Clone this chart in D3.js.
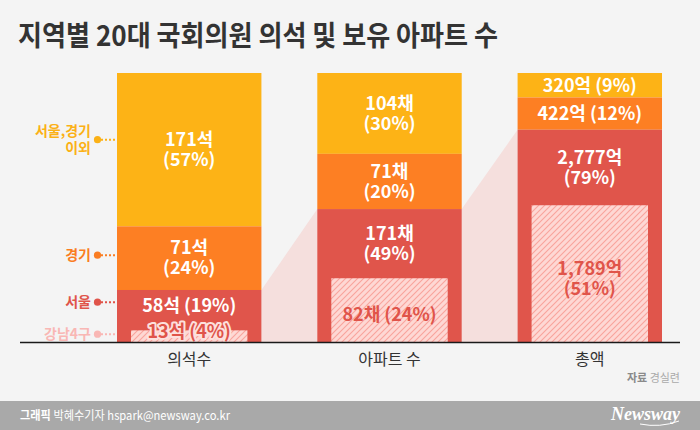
<!DOCTYPE html>
<html><head><meta charset="utf-8">
<script src="https://cdn.jsdelivr.net/npm/d3@7/dist/d3.min.js"></script>
<style>
html,body{margin:0;padding:0;background:#f4f4f4;}
svg{display:block;font-family:"Noto Sans CJK KR","Noto Sans",sans-serif;}
</style></head>
<body><svg id="c" width="700" height="430"></svg>
<script>
// ---- data ----
const categories = ["의석수", "아파트 수", "총액"];
const groups = ["서울,경기 이외", "경기", "서울"];
const seats = [171, 71, 58];
const apts = [104, 71, 171];
const amounts = [320, 422, 2777];
const gangnam = [13, 82, 1789];
const units = ["석", "채", "억"];
const valueLabels = [["171", "71", "58"], ["104", "71", "171"], ["320", "422", "2,777"]];
const gangnamLabels = ["13", "82", "1,789"];
const pctLabels = [[57, 24, 19], [30, 20, 49], [9, 12, 79]];
const gangnamPct = [4, 24, 51];
const legendLabels = [["서울,경기", "이외"], ["경기"], ["서울"], ["강남4구"]];
const title = "지역별 20대 국회의원 의석 및 보유 아파트 수";
const source = ["자료", "경실련"];
const credit = ["그래픽", "박혜수기자 hspark@newsway.co.kr"];

const series = [seats, apts, amounts];
const colors = ["#fdb316", "#fd7f23", "#e0554b"];
const legendColors = ["#fbb116", "#fa7d22", "#e0544a", "#f9b7b4"];

const svg = d3.select("#c");
const W = 700, H = 430;
const yTop = 73, base = 342;

svg.append("rect").attr("width", W).attr("height", H).attr("fill", "#f4f4f4");

// pattern
const defs = svg.append("defs");
const pat = defs.append("pattern").attr("id", "hatch").attr("patternUnits", "userSpaceOnUse")
  .attr("width", 6).attr("height", 6);
pat.append("rect").attr("width", 6).attr("height", 6).attr("fill", "#fed8d4");
pat.append("path").attr("d", "M-1,1 l2,-2 M0,6 l6,-6 M5,7 l2,-2")
  .attr("stroke", "#f9a49c").attr("stroke-width", 1.1);

// title
svg.append("text").attr("x", 18).attr("y", 46).attr("font-size", 28).attr("font-weight", 700)
  .attr("fill", "#333").attr("textLength", 480).attr("lengthAdjust", "spacingAndGlyphs")
  .text(title);

const x = d3.scaleBand().domain(categories).range([117, 662]).paddingInner(0.279).paddingOuter(0);
const bw = x.bandwidth();

const bars = categories.map((c, i) => {
  const vals = series[i];
  const total = d3.sum(vals);
  const y = d3.scaleLinear().domain([0, total]).range([base, yTop]);
  let cum = total;
  const segs = vals.map((v, j) => {
    const s = { j, v, y0: y(cum), y1: y(cum - v) };
    cum -= v;
    return s;
  });
  return { c, i, y, total, segs, gTop: y(gangnam[i]) };
});

// connecting polygons
const gPoly = svg.append("g");
for (let i = 0; i < bars.length - 1; i++) {
  const a = bars[i], b = bars[i + 1];
  const xa = x(a.c) + bw, xb = x(b.c);
  gPoly.append("path")
    .attr("d", `M${xa},${a.segs[2].y0}L${xb},${b.segs[2].y0}L${xb},${base}L${xa},${base}Z`)
    .attr("fill", "#f5dfdd");
}

// bars
const gBars = svg.append("g");
bars.forEach(b => {
  const bx = x(b.c);
  b.segs.forEach(s => {
    gBars.append("rect").attr("x", bx).attr("y", s.y0).attr("width", bw).attr("height", s.y1 - s.y0)
      .attr("fill", colors[s.j]);
  });
  gBars.append("rect").attr("x", bx + 14).attr("y", b.gTop).attr("width", bw - 28)
    .attr("height", base - b.gTop).attr("fill", "url(#hatch)");
});

// labels
const gLab = svg.append("g").attr("text-anchor", "middle").attr("font-weight", 600);
function label(cx, cy, lines, fill, size, halo) {
  const n = lines.length, lh = 20;
  lines.forEach((t, k) => {
    const yy = cy + (k - (n - 1) / 2) * lh;
    if (halo) {
      gLab.append("text").attr("x", cx).attr("y", yy).attr("dy", "0.35em").attr("font-size", size)
        .attr("fill", "none").attr("stroke", halo).attr("stroke-width", 4).attr("stroke-linejoin", "round").text(t);
    }
    gLab.append("text").attr("x", cx).attr("y", yy).attr("dy", "0.35em").attr("font-size", size)
      .attr("fill", fill).text(t);
  });
}
const labelCenters = [];
bars.forEach(b => {
  const cx = x(b.c) + bw / 2;
  const i = b.i;
  labelCenters[i] = [];
  b.segs.forEach(s => {
    let yA = s.y0, yB = s.y1;
    if (s.j === 2) yB = b.gTop;
    const h = yB - yA;
    const v = valueLabels[i][s.j] + units[i], p = "(" + pctLabels[i][s.j] + "%)";
    const lines = h > 45 ? [v, p] : [v + " " + p];
    let cy = (yA + yB) / 2;
    if (s.j === 2 && h < 45) cy -= 4;
    labelCenters[i][s.j] = cy;
    label(cx, cy, lines, "#fff", 18);
  });
  const gh = base - b.gTop;
  const gv = gangnamLabels[i] + units[i], gp = "(" + gangnamPct[i] + "%)";
  const glines = gh > 90 ? [gv, gp] : [gv + " " + gp];
  let gcy = gh < 20 ? b.gTop + 1 : (b.gTop + base) / 2 + 5;
  labelCenters[i][3] = gcy;
  label(cx, gcy, glines, "#e0544a", 18, gh < 20 ? "#fde0dd" : null);
});

// left legend
const b0 = bars[0];
const dotYs = [
  (b0.segs[0].y0 + b0.segs[0].y1) / 2 - 10,
  (b0.segs[1].y0 + b0.segs[1].y1) / 2 - 3,
  labelCenters[0][2] - 4,
  (b0.gTop + base) / 2 - 2
];
const gLeg = svg.append("g").attr("font-weight", 600).attr("font-size", 14);
legendLabels.forEach((lines, k) => {
  const cy = dotYs[k];
  const col = legendColors[k];
  gLeg.append("line").attr("x1", 101).attr("x2", x(categories[0]) - 1).attr("y1", cy).attr("y2", cy)
    .attr("stroke", col).attr("stroke-width", 2).attr("stroke-dasharray", "2,2");
  gLeg.append("circle").attr("cx", 97.5).attr("cy", cy).attr("r", 3.6).attr("fill", col);
  lines.forEach((t, m) => {
    const yy = cy + (m - (lines.length - 1) / 2) * 17;
    gLeg.append("text").attr("x", 91).attr("y", yy).attr("dy", "0.35em").attr("text-anchor", "end")
      .attr("fill", col).text(t);
  });
});

// baseline
svg.append("line").attr("x1", 20).attr("x2", 680).attr("y1", base + 0.5).attr("y2", base + 0.5)
  .attr("stroke", "#1a1a1a").attr("stroke-width", 1.5);

// category axis
const axis = d3.axisBottom(x).tickSize(0).tickPadding(10);
const ga = svg.append("g").attr("transform", `translate(0,${base + 2})`).call(axis);
ga.select(".domain").remove();
ga.selectAll("text").attr("font-size", 16).attr("fill", "#333")
  .attr("font-family", '"Noto Sans CJK KR",sans-serif');

// source
const st = svg.append("text").attr("x", 680).attr("y", 382).attr("text-anchor", "end").attr("font-size", 11);
st.append("tspan").attr("font-weight", 700).attr("fill", "#8a8a8a").text(source[0] + " ");
st.append("tspan").attr("fill", "#aaa").text(source[1]);

// footer
svg.append("rect").attr("x", 0).attr("y", 401).attr("width", W).attr("height", 29).attr("fill", "#a9a9a9");
const ft = svg.append("text").attr("x", 20).attr("y", 420).attr("font-size", 12).attr("fill", "#fff")
  .attr("textLength", 210).attr("lengthAdjust", "spacingAndGlyphs");
ft.append("tspan").attr("font-weight", 700).text(credit[0] + " ");
ft.append("tspan").text(credit[1]);
svg.append("text").attr("x", 680).attr("y", 420).attr("text-anchor", "end")
  .attr("font-family", '"Liberation Serif",serif').attr("font-style", "italic").attr("font-weight", 700)
  .attr("font-size", 18).attr("fill", "#fff").text("Newsway");
svg.append("path").attr("d", "M640,424 Q660,428 679,421").attr("fill", "none").attr("stroke", "#fff").attr("stroke-width", 1);
</script></body></html>
